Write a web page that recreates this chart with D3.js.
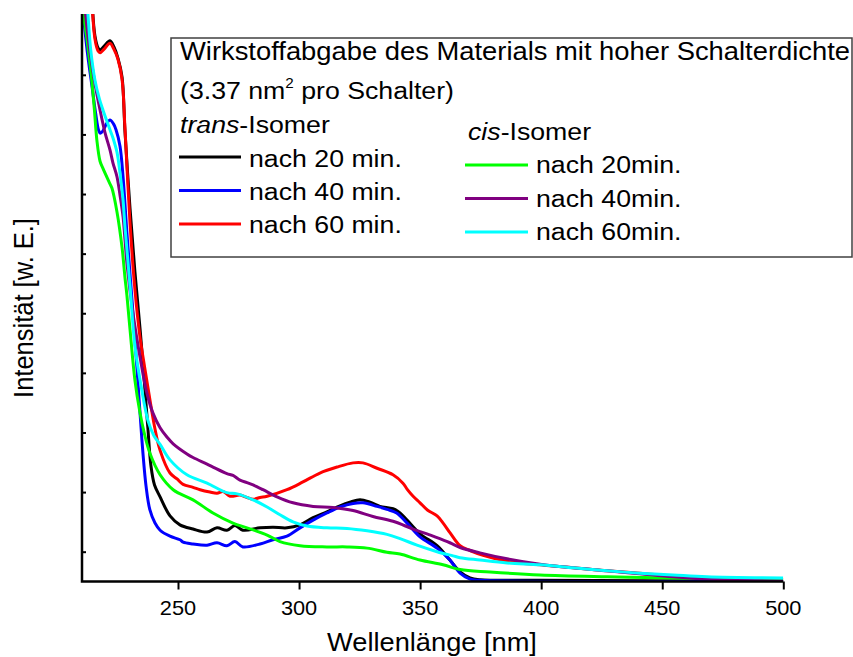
<!DOCTYPE html>
<html>
<head>
<meta charset="utf-8">
<script src="https://cdn.jsdelivr.net/npm/d3@7"></script>
<style>
  body { margin: 0; background: #fff; }
  svg { display: block; font-family: "Liberation Sans", Arial, sans-serif; }
</style>
</head>
<body>
<div id="chart"></div>
<script>
// wavelength [nm], intensity [w. E.]
var trans20 = [[214.3,9.9],[215.7,9.15],[217.0,8.95],[217.8,8.92],[219.5,8.98],[221.9,9.07],[223.5,8.97],[225.2,8.78],[226.9,8.46],[228.1,7.55],[230.2,6.25],[232.2,5.2],[234.3,4.25],[236.2,3.3],[237.6,2.55],[238.8,1.95],[240.3,1.62],[242.6,1.42],[246.7,1.1],[250.8,0.95],[256.2,0.88],[262.0,0.83],[266.1,0.9],[270.2,0.86],[273.5,0.94],[276.8,0.86],[283.9,0.9],[289.2,0.91],[295.0,0.9],[300.4,0.95],[305.8,1.07],[311.5,1.17],[316.9,1.27],[321.0,1.33],[325.2,1.37],[329.3,1.33],[333.4,1.26],[338.8,1.22],[341.7,1.15],[344.6,1.03],[349.95,0.8],[357.0,0.6],[362.3,0.36],[366.5,0.16],[370.6,0.06],[374.7,0.03],[399.5,0.02],[499.9,0.01]];
var trans40 = [[210.5,10.0],[211.0,9.5],[212.5,8.9],[214.5,8.3],[216.0,7.85],[217.2,7.57],[217.9,7.52],[219.0,7.56],[220.5,7.68],[221.9,7.74],[223.3,7.68],[224.4,7.58],[226.05,7.3],[227.3,6.79],[228.9,5.85],[231.0,4.72],[233.1,3.55],[235.1,2.37],[236.8,1.6],[238.4,1.2],[240.5,0.98],[242.6,0.86],[246.7,0.76],[250.8,0.7],[252.1,0.66],[256.2,0.63],[262.0,0.61],[266.1,0.65],[270.2,0.6],[273.5,0.67],[276.8,0.58],[283.9,0.63],[289.2,0.7],[295.0,0.76],[300.4,0.9],[305.8,1.03],[311.5,1.15],[316.9,1.25],[322.3,1.31],[326.4,1.32],[332.2,1.26],[336.3,1.21],[340.3,1.15],[344.6,0.98],[349.95,0.75],[357.0,0.56],[362.3,0.36],[366.5,0.14],[370.6,0.04],[374.7,0.02],[499.9,0.01]];
var trans60 = [[214.3,9.9],[215.7,9.1],[217.0,8.9],[217.8,8.87],[219.5,8.93],[221.9,9.03],[223.5,8.93],[225.2,8.76],[226.9,8.42],[228.1,7.6],[230.2,6.0],[232.2,4.9],[234.3,4.1],[236.2,3.6],[238.2,3.1],[240.3,2.6],[242.6,2.2],[246.7,1.82],[249.6,1.72],[252.1,1.63],[256.2,1.58],[259.1,1.54],[263.2,1.5],[266.1,1.48],[268.6,1.51],[271.5,1.43],[275.6,1.45],[278.5,1.41],[281.0,1.38],[283.9,1.41],[286.8,1.43],[295.0,1.54],[301.6,1.67],[308.6,1.82],[315.7,1.92],[322.3,1.99],[326.4,1.99],[332.2,1.9],[338.8,1.79],[342.9,1.65],[344.6,1.55],[347.1,1.43],[349.95,1.32],[353.0,1.2],[357.0,1.1],[359.5,0.98],[362.3,0.82],[366.5,0.6],[370.6,0.52],[376.0,0.44],[385.9,0.34],[399.5,0.28],[413.2,0.23],[427.2,0.18],[440.8,0.14],[454.45,0.09],[468.5,0.06],[499.9,0.03]];
var cis20 = [[210.6,10.0],[211.0,9.52],[212.4,9.1],[213.6,8.7],[214.5,8.36],[215.5,7.9],[216.5,7.4],[217.8,7.05],[219.0,6.93],[221.9,6.67],[222.7,6.6],[224.8,6.2],[226.9,5.6],[228.1,5.1],[228.9,4.8],[230.2,4.22],[232.2,3.38],[234.3,2.83],[236.0,2.5],[238.4,2.15],[242.6,1.79],[248.0,1.54],[256.2,1.37],[264.45,1.15],[272.7,0.98],[278.5,0.9],[286.8,0.78],[292.1,0.67],[300.4,0.6],[311.5,0.58],[319.8,0.58],[328.1,0.56],[336.3,0.49],[341.7,0.46],[349.95,0.36],[359.45,0.28],[366.5,0.2],[378.9,0.16],[399.5,0.11],[427.2,0.08],[454.45,0.06],[499.9,0.03]];
var cis40 = [[211.0,10.0],[211.8,9.52],[213.6,8.9],[215.7,8.35],[217.8,7.91],[219.85,7.53],[221.9,7.24],[223.15,7.02],[224.8,6.79],[226.05,6.48],[227.3,6.12],[228.9,5.34],[231.4,4.5],[234.3,3.77],[237.2,3.15],[239.7,2.82],[242.6,2.58],[245.5,2.42],[248.0,2.31],[253.7,2.14],[256.2,2.08],[262.0,1.97],[264.45,1.92],[270.2,1.81],[272.7,1.78],[275.6,1.7],[278.5,1.66],[281.0,1.62],[285.1,1.54],[290.9,1.42],[297.5,1.32],[305.8,1.26],[314.0,1.24],[322.3,1.19],[330.5,1.09],[338.8,1.01],[347.1,0.88],[355.3,0.76],[362.3,0.65],[366.5,0.57],[374.7,0.48],[385.9,0.38],[399.5,0.29],[413.2,0.23],[427.2,0.18],[440.8,0.13],[454.45,0.08],[468.5,0.04],[482.1,0.02],[499.9,0.01]];
var cis60 = [[212.0,10.0],[212.8,9.52],[214.0,8.9],[215.7,8.41],[217.5,8.1],[219.0,7.91],[221.9,7.58],[223.15,7.44],[224.8,7.2],[226.05,6.85],[227.3,6.4],[228.1,5.95],[230.2,4.95],[232.2,3.95],[235.1,3.2],[237.6,2.7],[240.0,2.45],[242.6,2.3],[246.7,2.04],[253.7,1.79],[262.0,1.65],[270.2,1.49],[274.4,1.47],[281.0,1.37],[286.8,1.25],[292.1,1.12],[297.5,1.0],[303.3,0.93],[311.5,0.9],[319.8,0.89],[328.1,0.85],[336.3,0.79],[341.7,0.72],[348.7,0.61],[357.0,0.5],[363.6,0.43],[366.5,0.4],[374.7,0.36],[385.9,0.31],[399.5,0.28],[413.2,0.23],[427.2,0.18],[440.8,0.14],[454.45,0.11],[468.5,0.08],[499.9,0.06]];

var xTicks = [250, 300, 350, 400, 450, 500];
var xMinorTicks = [225, 275, 325, 375, 425, 475];
var yTicks = [0.5, 1.5, 2.5, 3.5, 4.5, 5.5, 6.5, 7.5, 8.5];

var legendTitle = 'Wirkstoffabgabe des Materials mit hoher Schalterdichte';
var transNames = ['nach 20 min.', 'nach 40 min.', 'nach 60 min.'];
var cisNames = ['nach 20min.', 'nach 40min.', 'nach 60min.'];
var colors = ['#000000', '#0000ff', '#ff0000', '#00ff00', '#800080', '#00ffff'];

var series = [trans20, trans40, trans60, cis20, cis40, cis60];

var width = 853, height = 657,
    plot = { left: 82, right: 783.3, top: 14, bottom: 581.5 },
    stretch = 1.09;   // the picture is a bit wider than tall

var svg = d3.select('#chart').append('svg')
    .attr('width', width).attr('height', height);

var x = d3.scaleLinear().domain([210.35, 500]).range([plot.left, plot.right]),
    y = d3.scaleLinear().domain([0, 9.52]).range([plot.bottom, plot.top]);

function label (g, px, py, size, anchor) {
    return g.append('text')
        .attr('transform', 'translate(' + px + ',' + py + ') scale(' + stretch + ',1)')
        .attr('font-size', size)
        .attr('text-anchor', anchor || 'start')
        .attr('fill', '#000');
}

svg.append('clipPath').attr('id', 'clip')
    .append('rect')
    .attr('x', plot.left).attr('y', plot.top)
    .attr('width', plot.right - plot.left + 2).attr('height', plot.bottom - plot.top);

var line = d3.line()
    .x(function (d) { return x(d[0]); })
    .y(function (d) { return y(d[1]); })
    .curve(d3.curveCatmullRom.alpha(0.5));

svg.append('g').attr('clip-path', 'url(#clip)')
    .selectAll('path').data(series).enter().append('path')
    .attr('d', line)
    .attr('fill', 'none')
    .attr('stroke', function (d, i) { return colors[i]; })
    .attr('stroke-width', 3)
    .attr('stroke-linejoin', 'round');

// x axis
var xAxis = svg.append('g').attr('transform', 'translate(0,' + plot.bottom + ')');
xAxis.call(d3.axisBottom(x).tickValues(xMinorTicks).tickSize(5).tickFormat(''));
xAxis.call(d3.axisBottom(x).tickValues(xTicks).tickSize(8).tickFormat(''));
xAxis.selectAll('.domain').remove();
xAxis.selectAll('line').attr('stroke', '#000').attr('stroke-width', 2);
xTicks.forEach(function (t) {
    label(svg, x(t), 615, 20, 'middle').text(t);
});

// y axis, ticks only, pointing inwards
var yAxis = svg.append('g').attr('transform', 'translate(' + plot.left + ',0)');
yAxis.call(d3.axisRight(y).tickValues(yTicks).tickSize(4).tickFormat(''));
yAxis.selectAll('.domain').remove();
yAxis.selectAll('line').attr('stroke', '#000').attr('stroke-width', 2);

svg.append('path')
    .attr('d', 'M' + plot.left + ',' + plot.top + 'V' + plot.bottom + 'H' + plot.right)
    .attr('fill', 'none').attr('stroke', '#000').attr('stroke-width', 2.5);

label(svg, 432, 651, 25, 'middle').text('Wellenlänge [nm]');
svg.append('text')
    .attr('transform', 'translate(33,308) rotate(-90) scale(1,' + stretch + ')')
    .attr('font-size', 25.5).attr('text-anchor', 'middle')
    .text('Intensität [w. E.]');

// legend
var legend = svg.append('g');
legend.append('rect')
    .attr('x', 171).attr('y', 38).attr('width', 681).attr('height', 219)
    .attr('fill', '#fff').attr('stroke', '#404040').attr('stroke-width', 1.5);

label(legend, 180, 60, 25.1).text(legendTitle);
var l2 = label(legend, 180, 99, 24.5);
l2.append('tspan').text('(3.37 nm');
l2.append('tspan').attr('font-size', 14).attr('dy', -11).text('2');
l2.append('tspan').attr('dy', 11).text(' pro Schalter)');

var t3 = label(legend, 180, 133, 24.5);
t3.append('tspan').attr('font-style', 'italic').text('trans');
t3.append('tspan').text('-Isomer');

var c3 = label(legend, 468, 140, 24.5);
c3.append('tspan').attr('font-style', 'italic').text('cis');
c3.append('tspan').text('-Isomer');

transNames.forEach(function (name, i) {
    var ly = 157 + i * 33.5;
    legend.append('line')
        .attr('x1', 179).attr('x2', 241).attr('y1', ly).attr('y2', ly)
        .attr('stroke', colors[i]).attr('stroke-width', 3);
    label(legend, 249, 167 + i * 33, 24.5).text(name);
});
cisNames.forEach(function (name, i) {
    var ly = 165 + i * 33.5;
    legend.append('line')
        .attr('x1', 465).attr('x2', 528).attr('y1', ly).attr('y2', ly)
        .attr('stroke', colors[i + 3]).attr('stroke-width', 3);
    label(legend, 536, 173 + i * 33.5, 24.5).text(name);
});
</script>
</body>
</html>
